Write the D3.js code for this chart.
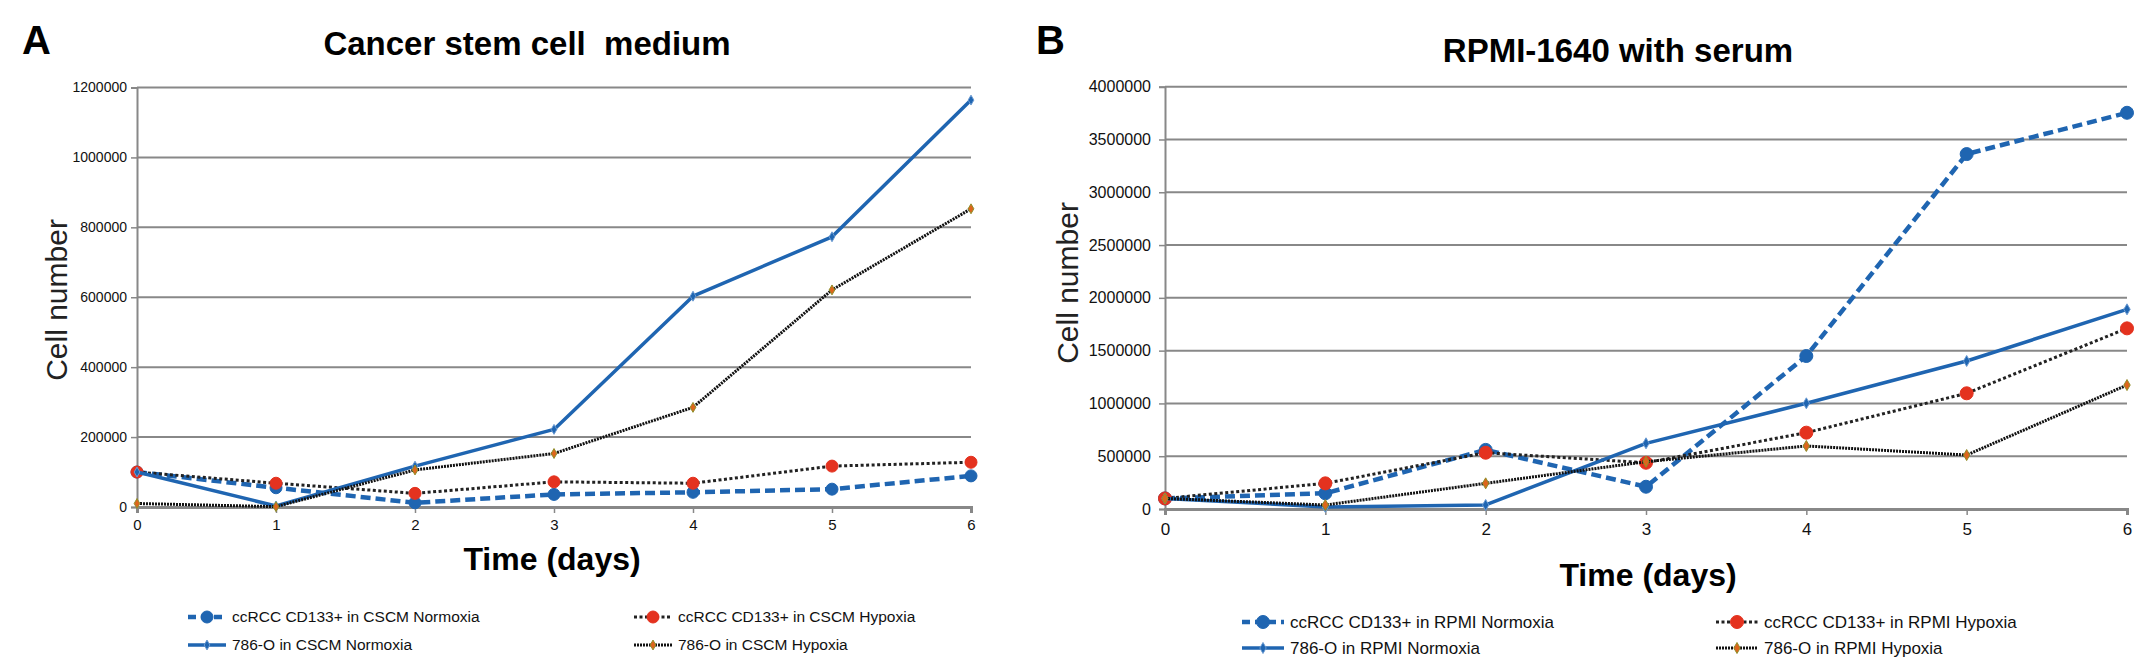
<!DOCTYPE html>
<html>
<head>
<meta charset="utf-8">
<script src="https://cdn.jsdelivr.net/npm/d3@7"></script>
<style>
  body { margin: 0; background: #fff; }
  svg { display: block; font-family: Arial, "Liberation Sans", Helvetica, sans-serif; }
  .title { white-space: pre; }
</style>
</head>
<body>
<svg id="chart" width="2150" height="672"></svg>
<script>
// data
const days = [0, 1, 2, 3, 4, 5, 6];

const cscmCcrccNormoxia = [100000, 55000, 12000, 36000, 42000, 51000, 89000];
const cscmCcrccHypoxia = [100000, 68000, 39000, 72000, 68000, 117000, 128000];
const cscm786Normoxia = [100000, 3000, 117000, 222000, 603000, 773000, 1164000];
const cscm786Hypoxia = [10000, 1000, 106000, 153000, 285000, 621000, 853000];

const rpmiCcrccNormoxia = [100000, 149000, 560000, 211000, 1449000, 3362000, 3753000];
const rpmiCcrccHypoxia = [100000, 243000, 533000, 438000, 723000, 1096000, 1711000];
const rpmi786Normoxia = [100000, 20000, 38000, 622000, 1001000, 1402000, 1891000];
const rpmi786Hypoxia = [100000, 38000, 243000, 448000, 597000, 511000, 1174000];

const yTicksA = [0, 200000, 400000, 600000, 800000, 1000000, 1200000];
const yTicksB = [0, 500000, 1000000, 1500000, 2000000, 2500000, 3000000, 3500000, 4000000];

const legendA = [
  "ccRCC CD133+ in CSCM Normoxia",
  "ccRCC CD133+ in CSCM Hypoxia",
  "786-O in CSCM Normoxia",
  "786-O in CSCM Hypoxia",
];
const legendB = [
  "ccRCC CD133+ in RPMI Normoxia",
  "ccRCC CD133+ in RPMI Hypoxia",
  "786-O in RPMI Normoxia",
  "786-O in RPMI Hypoxia",
];

const blue = "#1f65b1";
const red = "#e4321f";
const orange = "#dd651c";

// line + marker look of the four series kinds
const styles = {
  ccrccNormoxia: { stroke: blue, width: 4.5, dash: "10,5", marker: "circle", fill: blue, edge: blue },
  ccrccHypoxia: { stroke: "#222", width: 3, dash: "3,2.5", marker: "circle", fill: red, edge: red },
  o786Normoxia: { stroke: blue, width: 3.5, dash: null, marker: "diamond", fill: blue, edge: "#6c9bd2" },
  o786Hypoxia: { stroke: "#111", width: 3, dash: "2,1", marker: "diamond", fill: orange, edge: "#8f8f2a" },
};

const svg = d3.select("#chart");

function drawMarker(g, kind, x, y, r) {
  const st = styles[kind];
  if (st.marker === "circle") {
    g.append("circle")
      .attr("cx", x)
      .attr("cy", y)
      .attr("r", r)
      .attr("fill", st.fill)
      .attr("stroke", st.edge)
      .attr("stroke-width", 1);
  } else {
    g.append("path")
      .attr("d", d3.symbol(d3.symbolDiamond, r * r * 1.4)())
      .attr("transform", `translate(${x},${y})`)
      .attr("fill", st.fill)
      .attr("stroke", st.edge)
      .attr("stroke-width", 1);
  }
}

function drawPanel(p) {
  const x = d3.scaleLinear().domain([0, 6]).range([p.left, p.right]);
  const y = d3.scaleLinear().domain([0, p.yMax]).range([p.bottom, p.top]);
  const g = svg.append("g");

  // horizontal gridlines
  g.append("g")
    .selectAll("line")
    .data(p.yTicks.filter((d) => d > 0))
    .join("line")
    .attr("x1", p.left)
    .attr("x2", p.right)
    .attr("y1", (d) => y(d))
    .attr("y2", (d) => y(d))
    .attr("stroke", "#888")
    .attr("stroke-width", 2);

  const yAxis = g.append("g")
    .attr("transform", `translate(${p.left},0)`)
    .call(d3.axisLeft(y).tickValues(p.yTicks).tickSize(6).tickPadding(p.yPad).tickFormat(d3.format("d")));
  yAxis.select(".domain").attr("stroke", "#888").attr("stroke-width", 2);
  yAxis.selectAll(".tick line").attr("stroke", "#888").attr("stroke-width", 1.5);
  yAxis.selectAll(".tick text")
    .attr("font-size", p.tickFont)
    .attr("font-family", "Arial, 'Liberation Sans', sans-serif")
    .attr("fill", "#111");

  const xAxis = g.append("g")
    .attr("transform", `translate(0,${p.bottom})`)
    .call(d3.axisBottom(x).tickValues(days).tickSize(6).tickPadding(p.xPad).tickFormat(d3.format("d")));
  xAxis.select(".domain").attr("stroke", "#888").attr("stroke-width", 3);
  xAxis.selectAll(".tick line").attr("stroke", "#888").attr("stroke-width", 1.5);
  xAxis.selectAll(".tick text")
    .attr("font-size", p.xTickFont)
    .attr("font-family", "Arial, 'Liberation Sans', sans-serif")
    .attr("fill", "#111");

  // series lines then markers
  const line = d3.line().x((d, i) => x(days[i])).y((d) => y(d));
  p.series.forEach((s) => {
    const st = styles[s.kind];
    g.append("path")
      .datum(s.values)
      .attr("d", line)
      .attr("fill", "none")
      .attr("stroke", st.stroke)
      .attr("stroke-width", st.width)
      .attr("stroke-dasharray", st.dash)
      .attr("stroke-linejoin", "round");
    s.values.forEach((v, i) => drawMarker(g, s.kind, x(days[i]), y(v), s.kind.startsWith("ccrcc") ? p.circleR : p.diamondR));
  });

  // titles
  svg.append("text")
    .attr("x", p.letterX)
    .attr("y", 54)
    .attr("font-size", 40)
    .attr("font-weight", "bold")
    .text(p.letter);

  svg.append("text")
    .attr("class", "title")
    .attr("x", p.titleX)
    .attr("y", p.titleY)
    .attr("text-anchor", "middle")
    .attr("font-size", 33)
    .attr("font-weight", "bold")
    .text(p.title);

  svg.append("text")
    .attr("transform", `translate(${p.yLabelX},${p.yLabelY}) rotate(-90)`)
    .attr("text-anchor", "middle")
    .attr("font-size", 30)
    .attr("fill", "#222")
    .text("Cell number");

  svg.append("text")
    .attr("x", p.xLabelX)
    .attr("y", p.xLabelY)
    .attr("text-anchor", "middle")
    .attr("font-size", 32)
    .attr("font-weight", "bold")
    .text("Time (days)");

  // legend: two columns, two rows
  const lg = svg.append("g");
  p.series.forEach((s, i) => {
    const col = i % 2;
    const row = Math.floor(i / 2);
    const sx = p.legCols[col];
    const sy = p.legRows[row];
    const st = styles[s.kind];
    lg.append("line")
      .attr("x1", sx)
      .attr("x2", sx + p.legSym)
      .attr("y1", sy)
      .attr("y2", sy)
      .attr("stroke", st.stroke)
      .attr("stroke-width", st.width)
      .attr("stroke-dasharray", s.kind === "ccrccNormoxia" ? "8,5" : st.dash);
    drawMarker(lg, s.kind, sx + p.legSym / 2, sy, s.kind.startsWith("ccrcc") ? p.circleR : p.diamondR);
    lg.append("text")
      .attr("x", sx + p.legSym + 6)
      .attr("y", sy)
      .attr("dy", "0.35em")
      .attr("font-size", p.legFont)
      .attr("fill", "#111")
      .text(p.legend[i]);
  });
}

drawPanel({
  left: 137, right: 971, top: 87.5, bottom: 507,
  yMax: 1200000, yTicks: yTicksA, yPad: 4, xPad: 6,
  tickFont: 14, xTickFont: 15,
  circleR: 6, diamondR: 4.5,
  letter: "A", letterX: 22,
  title: "Cancer stem cell  medium", titleX: 527, titleY: 55,
  yLabelX: 67, yLabelY: 300,
  xLabelX: 552, xLabelY: 570,
  legend: legendA, legFont: 15.5, legSym: 38,
  legCols: [188, 634], legRows: [617, 645],
  series: [
    { kind: "ccrccNormoxia", values: cscmCcrccNormoxia },
    { kind: "ccrccHypoxia", values: cscmCcrccHypoxia },
    { kind: "o786Normoxia", values: cscm786Normoxia },
    { kind: "o786Hypoxia", values: cscm786Hypoxia },
  ],
});

drawPanel({
  left: 1165, right: 2127, top: 86.7, bottom: 509,
  yMax: 4000000, yTicks: yTicksB, yPad: 8, xPad: 8,
  tickFont: 16, xTickFont: 17,
  circleR: 6.5, diamondR: 5,
  letter: "B", letterX: 1036,
  title: "RPMI-1640 with serum", titleX: 1618, titleY: 62,
  yLabelX: 1078, yLabelY: 283,
  xLabelX: 1648, xLabelY: 586,
  legend: legendB, legFont: 17, legSym: 42,
  legCols: [1242, 1716], legRows: [622, 648],
  series: [
    { kind: "ccrccNormoxia", values: rpmiCcrccNormoxia },
    { kind: "ccrccHypoxia", values: rpmiCcrccHypoxia },
    { kind: "o786Normoxia", values: rpmi786Normoxia },
    { kind: "o786Hypoxia", values: rpmi786Hypoxia },
  ],
});
</script>
</body>
</html>
